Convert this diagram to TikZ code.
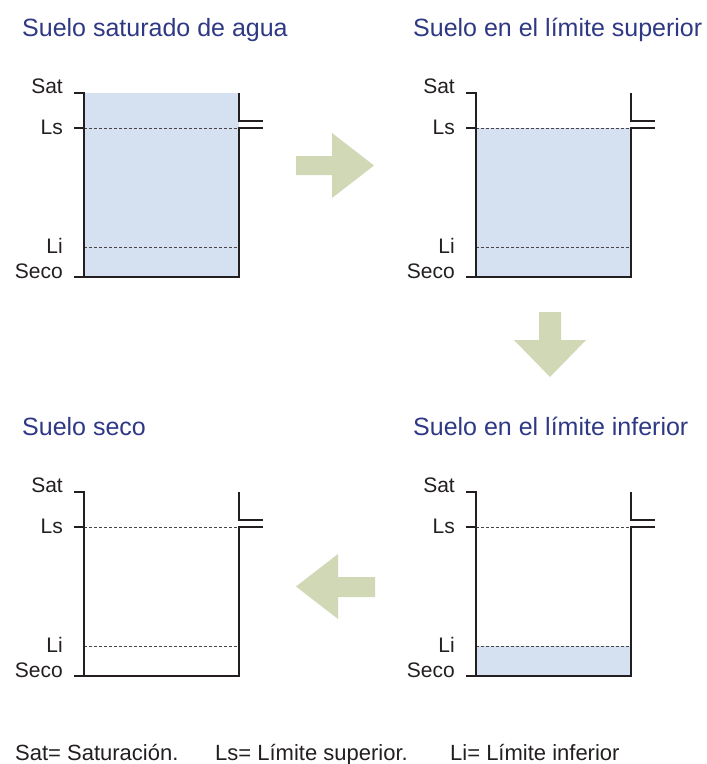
\documentclass[tikz,border=0pt]{standalone}
\usepackage{fontspec}
\setmainfont{Liberation Sans}
\definecolor{inkc}{RGB}{35,31,32}
\definecolor{dashc}{RGB}{70,70,70}
\definecolor{titlec}{RGB}{46,56,132}
\definecolor{waterc}{RGB}{213,224,240}
\definecolor{arrowc}{RGB}{208,216,182}
\newcommand\soilbox[3]{%
  \begin{scope}[shift={(#2,#3)}]
    \draw[level] (0,35) -- (155,35);
    \draw[level] (0,154) -- (155,154);
    \draw[wall] (-10,0) -- (0,0) -- (0,184) -- (155,184) -- (155,35) -- (179,35);
    \draw[wall] (-10,35) -- (0,35);
    \draw[wall] (-10,184) -- (0,184);
    \draw[wall] (155,0) -- (155,28) -- (179,28);
    \node[lvl] (#1sat) at (-21,0) {Sat};
    \node[lvl] (#1ls) at (-21,41) {Ls};
    \node[lvl] (#1li) at (-21,160) {Li};
    \node[lvl] (#1seco) at (-21,185) {Seco};
  \end{scope}}
\begin{document}
\begin{tikzpicture}[x=1pt,y=-1pt,
  wall/.style={line width=2.4pt, draw=inkc, line cap=butt, line join=miter},
  level/.style={line width=0.8pt, draw=dashc, dash pattern=on 3pt off 2pt},
  water/.style={fill=waterc, draw=none},
  bigarrow/.style={fill=arrowc, draw=none},
  lvl/.style={anchor=base east, font=\fontsize{21}{21}\selectfont, text=inkc, inner sep=0pt},
  title/.style={anchor=base west, font=\fontsize{25}{25}\selectfont, text=titlec, inner sep=0pt},
  legend/.style={anchor=base west, font=\fontsize{22}{22}\selectfont, text=inkc, inner sep=0pt}]
\useasboundingbox (0,0) rectangle (707,764);
% titles
\node[title] (t1) at (22,36) {Suelo saturado de agua};
\node[title] (t2) at (413,36) {Suelo en el límite superior};
\node[title] (t3) at (22,435) {Suelo seco};
\node[title] (t4) at (413,435) {Suelo en el límite inferior};
% water
\fill[water] (84,93) rectangle (239,277);
\fill[water] (476,128) rectangle (631,277);
\fill[water] (476,646) rectangle (631,676);
% containers
\soilbox{a}{84}{93}
\soilbox{b}{476}{93}
\soilbox{c}{84}{492}
\soilbox{d}{476}{492}
% arrows
\fill[bigarrow] (296,156) -- (332,156) -- (332,133) -- (374,165.5) -- (332,198) -- (332,175) -- (296,175) -- cycle;
\fill[bigarrow] (539,312) -- (561,312) -- (561,340) -- (586,340) -- (550,377) -- (514,340) -- (539,340) -- cycle;
\fill[bigarrow] (375,577) -- (338,577) -- (338,554) -- (296,586.5) -- (338,619) -- (338,597) -- (375,597) -- cycle;
% legend
\node[legend] (l1) at (15,760) {Sat= Saturación.};
\node[legend] (l2) at (215,760) {Ls= Límite superior.};
\node[legend] (l3) at (450,760) {Li= Límite inferior};
\end{tikzpicture}
\end{document}
